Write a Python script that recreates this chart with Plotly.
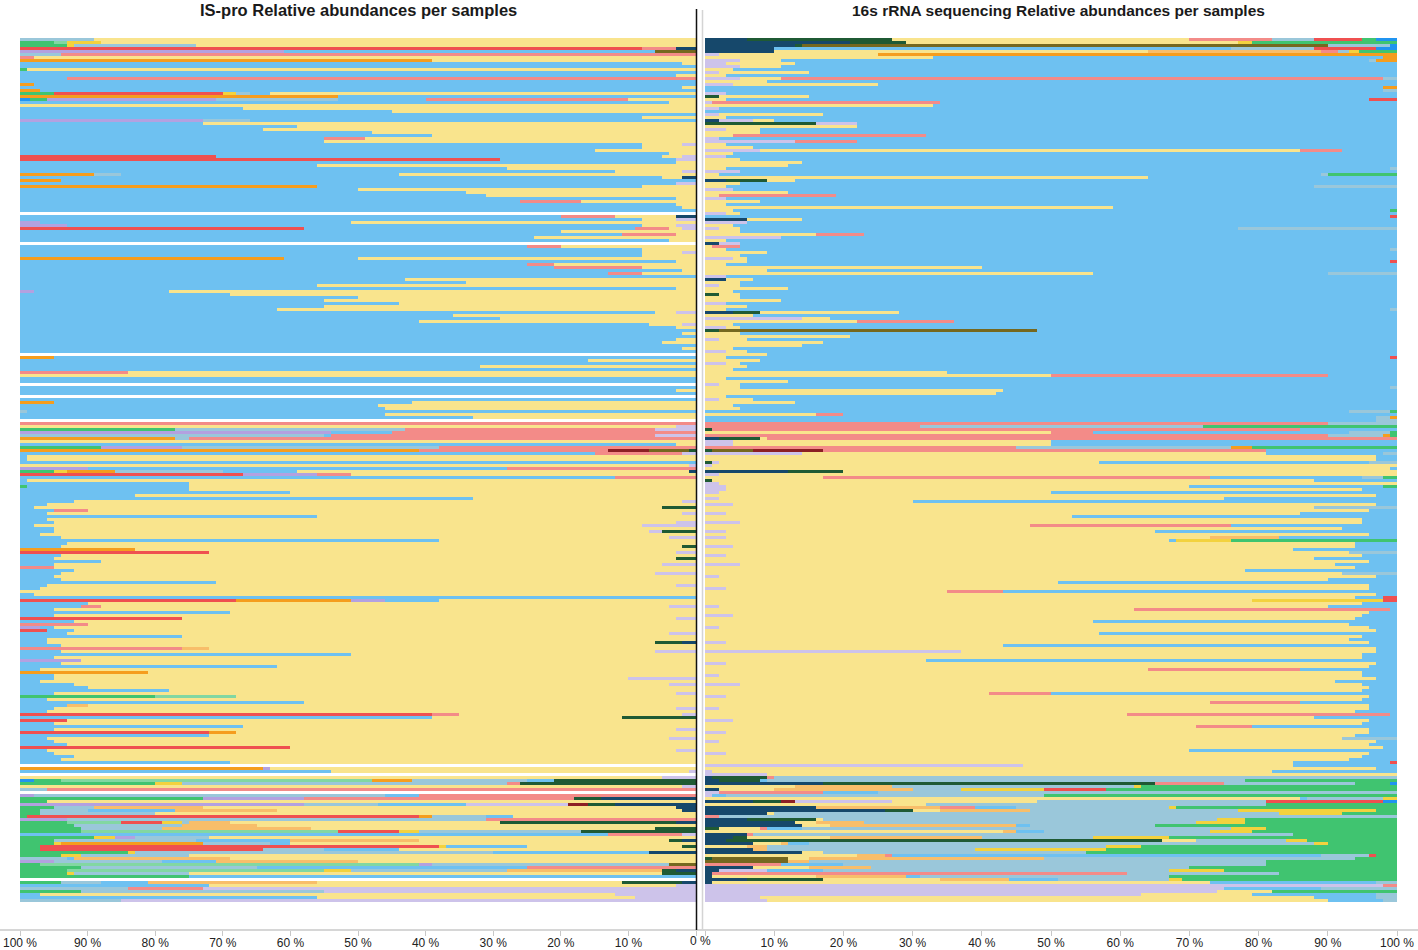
import re
import plotly.graph_objects as go

# ---------------- taxa (stack order from 0 % outward) ----------------
TAXA = ["N", "D", "O", "R", "L", "Y", "A", "P", "B", "G", "U", "E", "K", "X", "M", "V", "Z"]
TAXON_NAMES = ["Taxon navy", "Taxon dark green", "Taxon olive", "Taxon maroon", "Taxon lavender",
               "Taxon yellow", "Taxon apricot", "Taxon pink", "Taxon light blue", "Taxon grey-blue",
               "Taxon purple", "Taxon orange", "Taxon gold", "Taxon red", "Taxon mint",
               "Taxon green", "Taxon bright blue"]
COLORS = ["#16486b", "#1f5a34", "#75681f", "#8c1f24", "#cdc3ea",
          "#f9e48d", "#f8be6a", "#f38b88", "#6ec1f1", "#9ac7da",
          "#b3a1e0", "#f59d1e", "#f3d23e", "#ef5050", "#82d7a2",
          "#40c470", "#2094f0"]

# ---------------- IS-pro relative abundances (%), one string per sample ----------------
IS_PRO_ROWS = [
    "Y89 G11", "Y88 M2 K5 V5", "Y74 G18 K1 V7", "N3 P5 X92", "O6 B55 U39",
    "P94 G6", "Y98 P2", "Y39 E61", "Y2 B98", "B100",
    "Y99 V1", "B100", "Y3 B97", "P93 B7", "B100",
    "B98 E2", "Y2 B98", "B97 E3", "Y63 B3 G2 K2 X25 V5", "B53 E47",
    "Y10 P30 B13 G18 U25 V2.5 Z1.5", "Y4 B96", "Y100", "Y67 B33", "Y45 B55",
    "B100", "Y8 B92", "B66 G7 U27", "Y73 B27", "Y59 B41",
    "Y64 B36", "Y48 B52", "Y39 B61", "Y49 P6 B45", "Y55 B45",
    "L2 Y6 B92", "Y8 B92", "Y15 B85", "Y4 B96", "L2 Y3 B66 X29",
    "L3 B26 X71", "Y3 B97", "Y56 B44", "Y28 B72", "L2 Y10 B88",
    "Y44 B41 G4 E11", "N2 Y3 B95", "B94 E6", "L3 B97", "Y8 B48 E44",
    "Y50 B50", "Y34 B66", "Y31 B69", "Y3 B97", "Y17 P9 B74",
    "Y3 B97", "Y2 B98", "B100", "", "N3 Y9 P8 B80",
    "L3 Y5 B92", "Y51 B46 U3", "L3 Y5 B85 U7", "L2 Y2 P5 B49 X42", "Y20 B80",
    "Y3 P8 B89", "Y24 B76", "Y4 B96", "", "Y20 P5 B75",
    "Y8 B92", "L2 Y6 B92", "Y8 B92", "Y50 B11 E39", "Y3 B97",
    "Y21 P4 B75", "Y8 P13 B79", "Y2 B98", "Y8 P5 B87", "B100",
    "Y43 B57", "Y34 B66", "Y56 B44", "Y3 B97", "Y78 B20 U2",
    "Y69 B31", "Y50 B50", "Y55 B45", "Y44 B56", "Y55 B45",
    "Y62 B38", "L3 Y3 B94", "Y36 B64", "Y29 B71", "Y41 B59",
    "L2 Y5 B93", "Y3 B97", "B100", "Y2 B98", "B100",
    "Y3 B97", "Y5 B95", "B100", "Y2 B98", "B100",
    "", "B95 E5", "Y16 B84", "B100", "Y32 B68",
    "B100", "Y84 P16", "Y100", "B100", "B100",
    "", "B100", "Y3 B97", "B100", "",
    "B100", "Y42 B53 E5", "Y47 B53", "Y46 B54", "B99 G1",
    "Y46 B54", "Y33 B67", "", "P100", "L3 Y97",
    "L6 P37 G34 V23", "P45 B9 U46", "L6 P48 B1 G45", "P75 G2 E23", "Y100",
    "Y3 B97", "P38 G38 U12 V12", "O6 R6 D1 P28 E59", "L2 P13 B85", "Y99 B1",
    "Y99 B1", "B100", "L1 Y99", "P28 B62 U10", "N1 Y58 B11 G16 E7 K2 V5",
    "Y51 P5 U11 X33", "P12 B88", "Y99 B1", "Y75 B25", "Y75 B24 V1",
    "Y75 B25", "Y60 B40", "Y83 B17", "Y33 B67", "L2 Y90 B8",
    "Y96 B4", "D5 Y93 B2", "Y90 P5 B5", "L2 Y94 B4", "Y56 B44",
    "Y96 B4", "L3 Y92 B5", "L8 Y90 B2", "Y95 B5", "D5 L2 Y88 B5",
    "Y97 B3", "L4 Y90 B6", "Y38 B62", "Y93 B7", "D2 Y92 B6",
    "Y83 E17", "L3 Y69 X28", "Y94 B6", "D3 Y92 B5", "Y88 B12",
    "L5 Y90 B5", "Y95 P5", "Y92 B8", "L6 Y88 B6", "Y95 B5",
    "Y94 B6", "Y71 B29", "L3 Y93 B4", "Y97 B3", "Y100",
    "Y98 B2", "B100", "Y38 B8 U5 E17 X32", "Y90 B10", "L4 Y84 P3 B9",
    "Y95 B5", "Y69 B31", "Y95 B5", "L3 Y73 X24", "Y92 B8",
    "Y90 P10", "Y95 B2 U3", "Y92 B4 X4", "L4 Y89 B7", "Y76 B24",
    "Y96 B4", "N2 D4 Y90 B4", "Y94 B6", "A4 Y72 P24", "L6 Y88 B6",
    "Y51 B49", "Y95 B5", "Y91 U9", "Y94 B6", "Y62 B38",
    "Y97 B3", "Y81 E19", "Y95 B5", "L10 Y85 B5", "Y97 B3",
    "L4 Y88 B8", "Y90 B10", "Y78 B22", "L3 Y92 B5", "Y68 M12 V20",
    "Y96 B4", "Y58 B42", "A3 Y90 B7", "L3 Y92 B5", "Y96 B4",
    "L2 Y33 P4 X61", "D11 Y28 B61", "Y93 X7", "Y95 B5", "Y67 B33",
    "L3 Y92 B5", "Y68 E4 X28", "Y72 B28", "L4 Y92 B4", "Y95 B5",
    "Y93 B7", "Y60 X40", "L3 Y93 B4", "Y95 B5", "Y92 B8",
    "Y94 B6", "Y69 B31", "", "U1 Y63 E36", "L1 Y53 B46",
    "", "L5 Y95", "D21 B4 M46 G17 E6 V4 Z2", "D26 P2 G48 K4 V20", "L2 Y98",
    "P96 G4", "", "P41 B5 G52 U2", "N14 D4 P40 U15 V27", "Y96 V4",
    "R3 N12 D4 L15 B13 G11 U42", "N3 A16 Y70 G6 V5", "N2 A15 Y60 B13 G7 V3", "Y80 G17 V3", "Y27 B4 G8 E2 X58 V1",
    "P31 G62 U7", "N3 D26 A6 Y40 G1 K3 X6 M8 V7", "A11 Y65 G16 V8", "D6 A22 Y51 G12 V9", "D17 M38 G24 K3 X9 V9",
    "L2 P11 B87", "Y72 G11 U3 K3 V11", "N2 D2 A19 Y37 B14 G21 V5", "Y60 B3 G10 E21 K1 V5", "D2 Y23 B12 K1 X59 V3",
    "Y44 B11 G9 X33 V3", "N7 B23 G53 K1 V16", "Y75 G16 K3 V6", "A23 Y69 B1 G7", "A21 Y50 B8 G16 U5",
    "O4 M56 G35 U2 V3", "P25 B40 G26 V9", "N3 D2 A23 M38 G23 K4 V7", "D5 Y70 G17 K1 V7", "B75 V25",
    "", "N2 D9 A25 Y45 B7 G6 V6", "L3 Y69 B28", "L73 P11 G16", "L55 G36 V9",
    "L12 Y85 B3", "L9 Y47 B44", "L85 G15",
]

# ---------------- 16s rRNA relative abundances (%), same samples ----------------
RRNA_ROWS = [
    "N6 D21 Y43 P12 G6 X7 V2 Z3", "N21 D8 Y48 K2 V21", "N13 D1 O76 G9 Z1", "N10 B66 G12 X9 Z3", "N10 A25 Y54 P2.5 G1.5 K1.5 V5.5",
    "L2 Y23 E75", "Y33 B65 E2", "L5 Y6 B85 G1 E3", "L3 Y10 B87", "L5 Y6 B89",
    "Y4 B96", "L2 Y13 B85", "Y3 B97", "L5 Y6 P87 G2", "Y9 B91",
    "L4 Y21 B75", "B98 E2", "B98 G2", "L3 B97", "D2 Y13 B85",
    "Y3 B93 X4", "L1 P33 B66", "Y33 B67", "L2 B98", "B100",
    "L2 Y15 B83", "Y3 B97", "N2 L5 Y3 B90", "D16 L6 B78", "Y22 B78",
    "L3 Y5 B92", "Y8 B92", "Y4 P28 B68", "L2 B98", "L13 P9 B78",
    "Y3 B97", "Y7 B93", "L8 Y78 P6 B8", "Y4 B96", "L3 B97",
    "Y5 B95", "Y14 B86", "Y12 B88", "Y3 B96 G1", "L5 B95",
    "Y2 B87 G1 V10", "Y64 B36", "N3 D6 Y4 B87", "Y5 B95", "Y3 B85 G12",
    "L4 B96", "Y12 B88", "Y2 P17 B81", "L3 B97", "Y8 B92",
    "Y3 B97", "Y59 B41", "Y4 B95 V1", "L3 Y2 B95", "B99 X1",
    "N6 Y8 B86", "L6 B94", "Y4 B96", "L2 Y3 B72 G23", "Y5 B95",
    "Y16 P7 B77", "L11 B89", "Y3 B97", "N2 L3 B95", "Y1 P4 B95",
    "Y3 B96 G1", "Y9 B91", "Y5 B95", "L4 Y2 B94", "Y6 B93 X1",
    "Y3 B97", "Y40 B60", "Y9 B91", "Y56 B34 G10", "L3 B97",
    "N3 Y4 B93", "Y5 B95", "L2 Y3 B95", "Y12 B88", "Y4 B96",
    "D2 Y3 B95", "Y5 B95", "Y11 B89", "L3 B97", "Y6 B94",
    "Y3 B96 G1", "N4 D4 Y20 B72", "Y7 B93", "L14 Y4 B82", "Y22 P14 B64",
    "Y4 B96", "L3 Y2 B95", "D2 O46 B52", "Y5 B95", "Y21 B79",
    "L2 Y4 B94", "Y17 B83", "Y14 B86", "Y4 B96", "L3 Y3 B94",
    "Y9 B91", "Y3 B96 X1", "Y8 B92", "L3 Y2 B95", "Y6 B94",
    "Y4 B96", "Y35 B65", "Y50 P40 B10", "Y3 B97", "Y12 B88",
    "L2 Y3 B95", "Y5 B94 G1", "Y43 B57", "Y42 B58", "Y3 B97",
    "L2 Y5 B93", "Y13 B87", "Y4 B96", "Y5 B95", "B93 G6 V1",
    "Y16 P4 B80", "B97 G2 E1", "B97 G3", "P90 G10", "P31 G41 V28",
    "D1 P85 B14", "Y50 P6 B37 G6 V1", "P90 G8 E1 V1", "N2 D6 Y1 P91", "L4 Y46 B50",
    "L4 Y46 B50", "P45 G31 E3 V21", "O6 R10 D1 P64 B19", "L14 Y67 B17 G2", "Y97 B3",
    "Y97 B3", "D1 L1 Y55 B39 G4", "L1 Y99", "Y99 B1", "N12 D8 Y80",
    "L2 Y98", "Y17 P56 B22 G3 V2", "D1 Y87 B12", "L2 Y98", "L3 Y67 B28 V2",
    "L3 Y92 B5", "L2 Y48 B50", "Y97 B3", "L2 Y73 B25", "Y30 B70",
    "L4 Y93 B3", "Y88 G12", "Y96 B4", "L3 Y83 B14", "Y53 B47",
    "Y95 B5", "L5 Y90 B5", "Y47 P29 B24", "Y92 B8", "L3 Y62 B35",
    "Y96 B4", "L3 Y70 A10 B17", "Y67 B1 K8 V24", "Y94 B6", "L4 Y90 B6",
    "Y85 B15", "Y93 G7", "L3 Y92 B5", "Y88 B12", "Y96 B4",
    "L5 Y86 B9", "Y94 B6", "Y78 B22", "Y92 G8", "L2 Y95 B3",
    "Y90 B10", "Y51 B49", "Y96 B4", "L3 Y93 B4", "Y35 P8 B57",
    "Y97 B3", "Y94 B4 X2", "Y79 K19 X2", "Y95 B5", "L2 Y88 B10",
    "Y62 P37 B1", "Y96 B4", "L4 Y91 B5", "Y94 B6", "Y56 B44",
    "Y93 B7", "L2 Y94 B4", "Y97 B3", "Y57 B43", "Y95 B5",
    "Y93 B7", "L3 Y93 B4", "Y43 B57", "Y97 B3", "L37 Y60 B3",
    "Y95 B5", "Y95 B5", "Y32 B68", "L3 Y94 B3", "Y96 B4",
    "Y64 P22 B14", "Y95 B5", "L2 Y93 B5", "Y97 B3", "Y91 B9",
    "L5 Y90 B5", "Y96 B4", "Y95 B5", "Y41 P9 B50", "L3 Y93 B4",
    "Y95 B5", "Y73 P13 B14", "Y96 B4", "L2 Y94 B4", "Y94 B6",
    "Y61 P38 B1", "Y88 B12", "L4 Y92 B4", "Y95 B5", "Y71 P8 B21",
    "Y96 B4", "L3 Y93 B4", "Y94 B6", "Y92 G8", "L2 Y95 B3",
    "Y96 B4", "Y98 B2", "Y70 B30", "L3 Y93 B4", "Y95 B5",
    "Y93 B7", "Y85 B14 X1", "L46 Y39 B15", "Y97 B3", "L1 Y81 B18",
    "L9 Y91", "N1 D8 P1 G90", "N2 D6 B1 G69 V22", "N17 D48 P10 G19 V5 Z1", "A14 Y13 G35 K1 V37",
    "N2 A20 Y8 G7 K12 X9 V42", "L2 P15 B8 G75", "L1 B2 G46 V51", "Y86 B1 G11 K2", "R2 N7 D4 L14 Y21 G33 X17 Z2",
    "Y32 G49 V19", "N16 A18 P5 B6 G22 K1 V32", "N26 D4 Y4 A13 G30 K20 V3", "N9 Y1 G73 K9 V8", "P2 G98",
    "N6 D10 Y1 G57 K4 V22", "N13 A7 Y3 G48 K7 V22", "N14 A27 Y4 B2 G18 V35", "D2 Y6 P1 B5 G62 K5 V19", "A2 Y43 B4 G24 K6 V21",
    "N6 P1 G78 V15", "N4 D2 A22 Y12 G16 K11 V33", "N3 D63 Y5 G13 K3 V13", "N7 A1 Y4 B3 G73 K2 V10", "A3 Y6 G49 K5 V37",
    "N7 A2 G30 K19 V42", "N14 Y3 G38 V45", "A4 Y22 P1 B62 G7 X1 V3", "O11 D1 A34 Y3 G45 V6", "O12 A3 G66 V19",
    "P11 B9 G61 V19", "N7 A9 Y8 G46 V30", "N2 L7 B8 G50 K8 V25", "N1 P60 G22 V17", "N1 A13 Y15 B2 G36 V33",
    "N6 D11 A10 Y17 B7 G16 K2 V31", "N1 Y72 B24 G3", "L98 P2", "L75 B14 G11", "L74 Y8 V18",
    "L63 Y16 B18 G3", "L8 Y80 B9 G3", "L9 Y81 B8 G2",
]

TICKS = [0, 10, 20, 30, 40, 50, 60, 70, 80, 90, 100]
TITLES = ["<b>IS-pro Relative abundances per samples</b>",
          "<b>16s rRNA sequencing Relative abundances per samples</b>"]

# ---------------- build ----------------
W, H = 1418, 950
TOP, BOTTOM = 38, 930          # pixel rows of bar area / axis line
ROW_PX = 3.0


def parse(row):
    return {c: float(v) for c, v in re.findall(r"([A-Z])([\d.]+)", row)}


n = max(len(IS_PRO_ROWS), len(RRNA_ROWS))
left = [parse(r) for r in IS_PRO_ROWS] + [{}] * (n - len(IS_PRO_ROWS))
right = [parse(r) for r in RRNA_ROWS] + [{}] * (n - len(RRNA_ROWS))
ys = list(range(n))

fig = go.Figure()
for code, name, col in zip(TAXA, TAXON_NAMES, COLORS):
    fig.add_trace(go.Bar(x=[d.get(code, 0) for d in left], y=ys, orientation="h",
                         name=name, marker=dict(color=col, line=dict(width=0)),
                         xaxis="x", yaxis="y", showlegend=False,
                         hovertemplate=name + ": %{x}%<extra></extra>"))
    fig.add_trace(go.Bar(x=[d.get(code, 0) for d in right], y=ys, orientation="h",
                         name=name, marker=dict(color=col, line=dict(width=0)),
                         xaxis="x2", yaxis="y2", showlegend=False,
                         hovertemplate=name + ": %{x}%<extra></extra>"))

span = (BOTTOM - TOP) / ROW_PX
yr = [span - 0.5, -0.5]
ydom = [1 - BOTTOM / H, 1 - TOP / H]

tickfont = dict(family="Liberation Sans, Arial, sans-serif", size=12, color="#222")
common_x = dict(tickmode="array", tickvals=TICKS, ticks="outside", ticklen=5,
                tickcolor="#c8c8c8", tickwidth=1, showgrid=False, zeroline=False,
                showline=False, tickfont=tickfont, fixedrange=True, automargin=False,
                ticklabelstandoff=-3)

fig.update_layout(
    width=W, height=H, margin=dict(l=0, r=0, t=0, b=0, pad=0, autoexpand=False),
    paper_bgcolor="white", plot_bgcolor="white",
    barmode="stack", bargap=0,
    xaxis=dict(domain=[20 / W, 696 / W], range=[100, 0], anchor="y",
               ticktext=[("" if t == 0 else f"{t} %") for t in TICKS], **common_x),
    xaxis2=dict(domain=[705 / W, 1397 / W], range=[0, 100], anchor="y2",
                ticktext=[("" if t == 0 else f"{t} %") for t in TICKS], **common_x),
    yaxis=dict(domain=ydom, range=yr, visible=False, fixedrange=True, anchor="x", automargin=False),
    yaxis2=dict(domain=ydom, range=yr, visible=False, fixedrange=True, anchor="x2", automargin=False),
    shapes=[
        dict(type="line", xref="paper", yref="paper", x0=0, x1=1,
             y0=1 - BOTTOM / H, y1=1 - BOTTOM / H, line=dict(color="#c8c8c8", width=1.5)),
        dict(type="line", xref="paper", yref="paper", x0=702.5 / W, x1=702.5 / W,
             y0=1 - BOTTOM / H, y1=1 - 10 / H, line=dict(color="#d4d4d4", width=1.5)),
        dict(type="line", xref="paper", yref="paper", x0=696.5 / W, x1=696.5 / W,
             y0=1 - BOTTOM / H, y1=1 - 9 / H, line=dict(color="#111", width=1.5)),
    ],
    annotations=[
        dict(text=TITLES[0], xref="paper", yref="paper", x=358 / W, y=1 - 10 / H,
             showarrow=False, xanchor="center", yanchor="middle",
             font=dict(family="Liberation Sans, Arial, sans-serif", size=16.5, color="#1a1a1a")),
        dict(text=TITLES[1], xref="paper", yref="paper", x=1058 / W, y=1 - 10 / H,
             showarrow=False, xanchor="center", yanchor="middle",
             font=dict(family="Liberation Sans, Arial, sans-serif", size=15.5, color="#1a1a1a")),
        dict(text="0 %", xref="paper", yref="paper", x=700 / W, y=1 - 941 / H,
             showarrow=False, xanchor="center", yanchor="middle", font=tickfont),
    ],
)

fig.write_html("out.html", config={"displayModeBar": False},
               post_script="document.body.style.margin='0px';document.body.style.overflow='hidden';")
